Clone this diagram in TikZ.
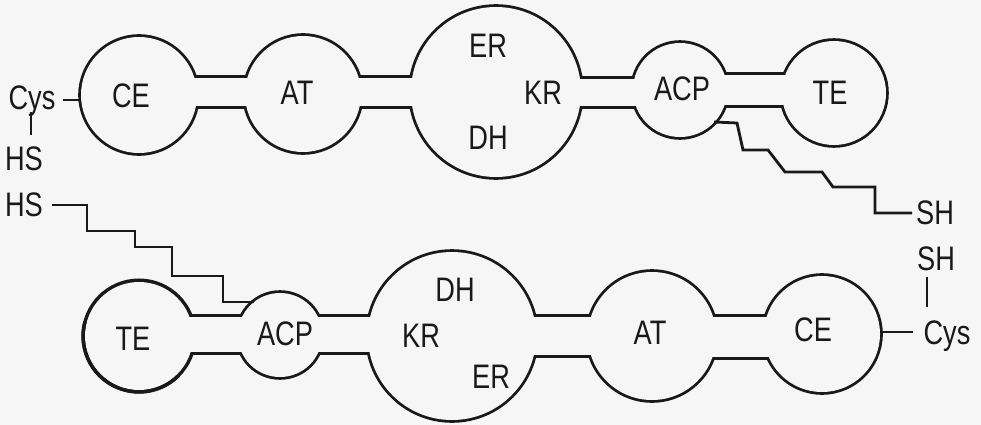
\documentclass[tikz,border=0pt]{standalone}
\usepackage{fontspec}
\setmainfont{Liberation Sans}[FakeStretch=0.8]
\usetikzlibrary{calc}
\definecolor{bg}{RGB}{246,246,246}
\definecolor{ink}{RGB}{25,25,25}
\begin{document}
\begin{tikzpicture}[x=1pt,y=-1pt,
  lbl/.style={anchor=base, inner sep=0pt, font=\fontsize{34}{34}\selectfont, text=ink},
  outl/.style={draw=ink, line width=5.6pt},
  wipe/.style={fill=bg},
  link/.style={draw=ink, line width=2.8pt, line join=miter}]
\fill[bg] (0,0) rectangle (981,425);
\useasboundingbox (0,0) rectangle (981,425);
% circle centres
\foreach \n/\x/\y in {CEa/139/95, ATa/303/94, BIGa/496/92, ACPa/680/90, TEa/834/93,
                      TEb/139/336, ACPb/280/335, BIGb/452/336, ATb/652/336, CEb/822/334}
  {\coordinate (\n) at (\x,\y);}
% outline of the union: stroke wide, then fill
\foreach \n/\r in {CEa/58, ATa/58, BIGa/85, ACPa/47, TEa/52, ACPb/42, BIGb/84, ATb/64, CEb/58}
  {\path[outl] (\n) circle[radius=\r];}
\path[outl, line width=7pt] (TEb) circle[radius=54];
\foreach \xa/\xb/\ya/\yb in {139/303/78/106, 303/496/78/106, 496/680/79/106, 680/834/75/105,
                             139/280/317/352, 280/452/317/352, 452/652/317/355, 652/822/317/357}
  {\path[outl] (\xa,\ya) rectangle (\xb,\yb);}
\foreach \n/\r in {CEa/58, ATa/58, BIGa/85, ACPa/47, TEa/52, TEb/54, ACPb/42, BIGb/84, ATb/64, CEb/58}
  {\path[wipe] (\n) circle[radius=\r];}
\foreach \xa/\xb/\ya/\yb in {139/303/78/106, 303/496/78/106, 496/680/79/106, 680/834/75/105,
                             139/280/317/352, 280/452/317/352, 452/652/317/355, 652/822/317/357}
  {\path[wipe] (\xa,\ya) rectangle (\xb,\yb);}
% heavier lower-left rim of the bottom TE
\draw[ink, line width=3.4pt] ($(TEb)+(195:56)$) arc[start angle=195, end angle=45, radius=56];
% labels, top chain
\node[lbl] (tCE)  at (131,107) {CE};
\node[lbl] (tAT)  at (297,105) {AT};
\node[lbl] (tER)  at (488,58)  {ER};
\node[lbl] (tKR)  at (543,104) {KR};
\node[lbl] (tDH)  at (488,149) {DH};
\node[lbl] (tACP) at (682,100) {ACP};
\node[lbl] (tTE)  at (830,104) {TE};
\node[lbl] (tCys) at (32,110)  {Cys};
\node[lbl] (tHS)  at (24,170)  {HS};
% labels, bottom chain
\node[lbl] (bHS)  at (24,216)  {HS};
\node[lbl] (bTE)  at (133,350) {TE};
\node[lbl] (bACP) at (285,345) {ACP};
\node[lbl] (bDH)  at (455,301) {DH};
\node[lbl] (bKR)  at (421,347) {KR};
\node[lbl] (bER)  at (491,388) {ER};
\node[lbl] (bAT)  at (650,344) {AT};
\node[lbl] (bCE)  at (813,341) {CE};
\node[lbl] (bCys) at (947,344) {Cys};
\node[lbl] (tSH)  at (935,224) {SH};
\node[lbl] (bSH)  at (936,270) {SH};
% connector end points
\coordinate (cA1) at (63,100);  \coordinate (cA2) at (81,100);
\coordinate (vA1) at (31,112);  \coordinate (vA2) at (31,135);
\coordinate (cB1) at (880,332); \coordinate (cB2) at (913,332);
\coordinate (vB1) at (927,277); \coordinate (vB2) at (927,307);
\coordinate (sA0) at (714,122); \coordinate (sA9) at (912,213);
\coordinate (sB0) at (52,205);  \coordinate (sB9) at (254,302);
% short bonds
\draw[link] (cA1) -- (cA2);
\draw[link] (vA1) -- (vA2);
\draw[link] (cB1) -- (cB2);
\draw[link] (vB1) -- (vB2);
% phosphopantetheine arms
\draw[link] (sA0) -- (737,123) -- (743,150) -- (768,150) -- (785,172) -- (822,172)
  -- (833,187) -- (875,187) -- (875,213) -- (sA9);
\draw[link] (sB0) -- (87,205) -- (87,231) -- (135,231) -- (135,247) -- (172,247)
  -- (172,276) -- (223,276) -- (223,302) -- (sB9);
\end{tikzpicture}
\end{document}
